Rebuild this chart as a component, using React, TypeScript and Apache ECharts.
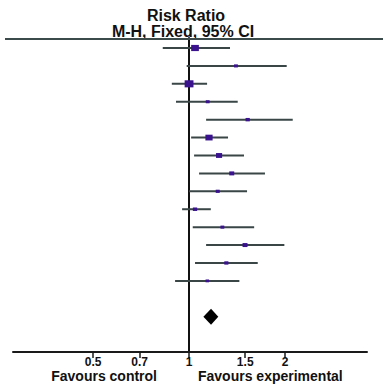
import React, { useEffect, useRef } from "react";
import * as echarts from "echarts";

// Study rows (top to bottom): risk ratio with 95% CI
const studyRR = [1.044, 1.403, 1.0, 1.144, 1.527, 1.155, 1.242, 1.361, 1.23, 1.044, 1.272, 1.498, 1.309, 1.141];
const studyLow = [0.827, 0.983, 0.883, 0.91, 1.131, 1.015, 1.037, 1.075, 1.0, 0.951, 1.027, 1.131, 1.044, 0.904];
const studyHigh = [1.344, 2.024, 1.139, 1.421, 2.114, 1.325, 1.487, 1.73, 1.52, 1.17, 1.6, 1.99, 1.642, 1.438];
const studyWeight = [14.9, 3.7, 19.6, 3.7, 4.5, 13.0, 9.3, 6.2, 4.0, 4.7, 3.7, 6.2, 4.3, 3.1];

// Pooled estimate (row 15, row 14 left blank)
const pooledRR = 1.172;
const pooledLow = 1.109;
const pooledHigh = 1.235;
const pooledRow = 15;

const tickLabels = [0.5, 0.7, 1, 1.5, 2];
const axisMinRR = 0.2805;
const axisMaxRR = 3.614;

const headerTitle = "Risk Ratio";
const headerSub = "M-H, Fixed, 95% CI";
const leftFavour = "Favours control";
const rightFavour = "Favours experimental";

const FONT = "'Liberation Sans', Arial, Helvetica, sans-serif";

export default function App() {
  const ref = useRef<HTMLDivElement>(null);

  useEffect(() => {
    document.body.style.margin = "0";
    if (!ref.current) return;
    const chart = echarts.init(ref.current, null, { renderer: "svg" });
    const lg = (v: number) => Math.log10(v);

    const ciData = studyRR.map((_, i) => [lg(studyLow[i]), lg(studyHigh[i]), i]);
    const ptData = studyRR.map((v, i) => [lg(v), i, studyWeight[i]]);
    const diamondData = [[lg(pooledLow), lg(pooledRR), lg(pooledHigh), pooledRow]];

    chart.setOption({
      animation: false,
      grid: { left: 13, right: 17, top: 38, bottom: 40, containLabel: false },
      xAxis: {
        type: "value",
        min: lg(axisMinRR),
        max: lg(axisMaxRR),
        splitLine: { show: false },
        axisLine: { show: true, onZero: false, lineStyle: { color: "#1a1a1a", width: 2 } },
        axisTick: {
          show: true,
          customValues: tickLabels.map(lg),
          length: 6,
          lineStyle: { color: "#1a1a1a", width: 1.5 },
        },
        axisLabel: {
          customValues: tickLabels.map(lg),
          formatter: (v: number) => String(Number(Math.pow(10, v).toFixed(2))),
          fontFamily: FONT,
          fontSize: 12,
          lineHeight: 12,
          fontWeight: "bold",
          color: "#111",
          margin: 4,
        },
      },
      yAxis: {
        type: "value",
        inverse: true,
        min: -0.558,
        max: 16.97,
        splitLine: { show: false },
        axisTick: { show: false },
        axisLabel: { show: false },
        axisLine: { show: true, onZero: true, lineStyle: { color: "#111", width: 2 } },
      },
      graphic: [
        {
          type: "line",
          shape: { x1: 5, y1: 39, x2: 383, y2: 39 },
          style: { stroke: "#3b4a4a", lineWidth: 2 },
          z: 10,
        },
        {
          type: "text",
          x: 186,
          y: 15,
          style: {
            text: headerTitle,
            font: `bold 16px ${FONT}`,
            fill: "#111",
            textAlign: "center",
            textVerticalAlign: "middle",
          },
        },
        {
          type: "text",
          x: 183,
          y: 31,
          style: {
            text: headerSub,
            font: `bold 16px ${FONT}`,
            fill: "#111",
            textAlign: "center",
            textVerticalAlign: "middle",
          },
        },
        {
          type: "text",
          x: 157,
          y: 376,
          style: {
            text: leftFavour,
            font: `bold 14px ${FONT}`,
            lineHeight: 14,
            fill: "#111",
            textAlign: "right",
            textVerticalAlign: "middle",
          },
        },
        {
          type: "text",
          x: 198,
          y: 376,
          style: {
            text: rightFavour,
            font: `bold 14px ${FONT}`,
            lineHeight: 14,
            fill: "#111",
            textAlign: "left",
            textVerticalAlign: "middle",
          },
        },
      ],
      series: [
        {
          type: "custom",
          data: ciData,
          encode: { x: [0, 1], y: 2 },
          renderItem: (_params: any, api: any) => {
            const p1 = api.coord([api.value(0), api.value(2)]);
            const p2 = api.coord([api.value(1), api.value(2)]);
            return {
              type: "line",
              shape: { x1: p1[0], y1: p1[1], x2: p2[0], y2: p2[1] },
              style: { stroke: "#3a4646", lineWidth: 2 },
            };
          },
          z: 2,
        },
        {
          type: "scatter",
          data: ptData,
          symbol: "rect",
          symbolSize: (val: number[]) => {
            const s = 1.6 * Math.sqrt(val[2]);
            return [s * 1.25, s];
          },
          itemStyle: { color: "#3a128e", opacity: 1 },
          z: 3,
        },
        {
          type: "custom",
          data: diamondData,
          encode: { x: [0, 1, 2], y: 3 },
          renderItem: (_params: any, api: any) => {
            const row = api.value(3);
            const l = api.coord([api.value(0), row]);
            const m = api.coord([api.value(1), row]);
            const h = api.coord([api.value(2), row]);
            const half = 8;
            return {
              type: "polygon",
              shape: {
                points: [
                  [l[0], l[1]],
                  [m[0], m[1] - half],
                  [h[0], h[1]],
                  [m[0], m[1] + half],
                ],
              },
              style: { fill: "#000" },
            };
          },
          z: 3,
        },
      ],
    });

    return () => chart.dispose();
  }, []);

  return <div ref={ref} style={{ width: 384, height: 392 }} />;
}
